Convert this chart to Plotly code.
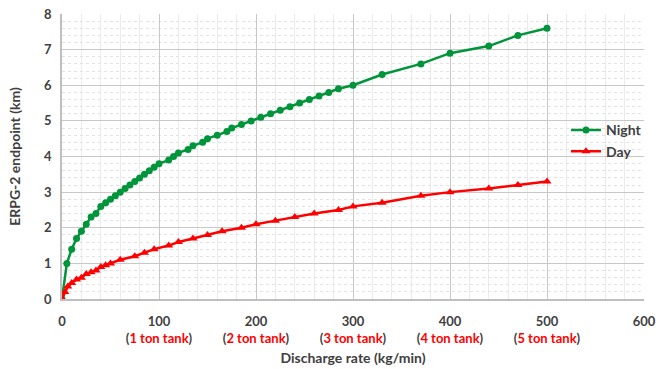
import plotly.graph_objects as go

# Night: ERPG-2 endpoint distance (km) vs discharge rate (kg/min)
night_rate = [0, 5, 10, 15, 20, 25, 30, 35, 40, 45, 50, 55, 60, 65, 70, 75, 80, 85, 90, 95, 100,
              110, 115, 120, 130, 135, 145, 150, 160, 170, 175, 185, 195, 205, 215, 225, 235,
              245, 255, 265, 275, 285, 300, 330, 370, 400, 440, 470, 500]
night_km = [0, 1.0, 1.4, 1.7, 1.9, 2.1, 2.3, 2.4, 2.6, 2.7, 2.8, 2.9, 3.0, 3.1, 3.2, 3.3, 3.4, 3.5, 3.6, 3.7, 3.8,
            3.9, 4.0, 4.1, 4.2, 4.3, 4.4, 4.5, 4.6, 4.7, 4.8, 4.9, 5.0, 5.1, 5.2, 5.3, 5.4,
            5.5, 5.6, 5.7, 5.8, 5.9, 6.0, 6.3, 6.6, 6.9, 7.1, 7.4, 7.6]

# Day
day_rate = [0, 3, 6, 10, 15, 20, 25, 30, 35, 40, 45, 50, 60, 75, 85, 95, 110, 120, 135, 150,
            165, 185, 200, 220, 240, 260, 285, 300, 330, 370, 400, 440, 470, 500]
day_km = [0, 0.2, 0.35, 0.45, 0.55, 0.6, 0.7, 0.75, 0.8, 0.9, 0.95, 1.0, 1.1, 1.2, 1.3, 1.4, 1.5, 1.6, 1.7, 1.8,
          1.9, 2.0, 2.1, 2.2, 2.3, 2.4, 2.5, 2.6, 2.7, 2.9, 3.0, 3.1, 3.2, 3.3]

x_ticks = [0, 100, 200, 300, 400, 500, 600]
tank_labels = ["", "1 ton tank", "2 ton tank", "3 ton tank", "4 ton tank", "5 ton tank", ""]
y_ticks = [0, 1, 2, 3, 4, 5, 6, 7, 8]

tick_text = []
for v, t in zip(x_ticks, tank_labels):
    if t:
        tick_text.append(f"{v}<br>(<span style='color:#FF0000'>{t}</span>)")
    else:
        tick_text.append(f"{v}")

FONT = "Lato"
TXT = "#404040"

fig = go.Figure()
fig.add_trace(go.Scatter(
    x=night_rate, y=night_km, name="Night", mode="lines+markers",
    line=dict(color="#00953A", width=2.5),
    marker=dict(symbol="circle", size=7, color="#00953A"),
))
fig.add_trace(go.Scatter(
    x=day_rate, y=day_km, name="Day", mode="lines+markers",
    line=dict(color="#FF0000", width=2.5),
    marker=dict(symbol="triangle-up", size=8, color="#FF0000"),
))

bold = dict(family=FONT, size=13, color=TXT, weight=700)
title_font = dict(family=FONT, size=14, color=TXT, weight=700)

fig.update_layout(
    width=672, height=369,
    margin=dict(l=62, r=28, t=14, b=70),
    paper_bgcolor="white", plot_bgcolor="white",
    font=bold,
    legend=dict(x=0.866, y=0.555, xanchor="left", yanchor="middle",
                bgcolor="rgba(255,255,255,0)", font=dict(family=FONT, size=14, color=TXT, weight=700),
                tracegroupgap=2, itemwidth=30),
    showlegend=True,
)
fig.update_xaxes(
    range=[0, 600], tickvals=x_ticks, ticktext=tick_text, automargin=False,
    showgrid=True, gridcolor="#C8C8C8", gridwidth=1,
    minor=dict(dtick=20, showgrid=True, gridcolor="#EBEBEB", gridwidth=1),
    showline=True, linecolor="#BFBFBF", linewidth=1.5,
    zeroline=False, ticks="", tickfont=bold, ticklabelstandoff=10,
    title=dict(text="Discharge rate (kg/min)", font=title_font, standoff=8),
)
fig.update_yaxes(
    range=[0, 8], tickvals=y_ticks, tickfont=bold, automargin=False,
    showgrid=True, gridcolor="#C8C8C8", gridwidth=1,
    minor=dict(dtick=0.2, showgrid=True, gridcolor="#E3E3E3", gridwidth=1, griddash="dot"),
    showline=True, linecolor="#BFBFBF", linewidth=1.5,
    zeroline=False, ticks="", ticklabelstandoff=6,
    title=dict(text="ERPG-2 endpoint (km)", font=title_font, standoff=20),
)

fig.write_html("out.html")
